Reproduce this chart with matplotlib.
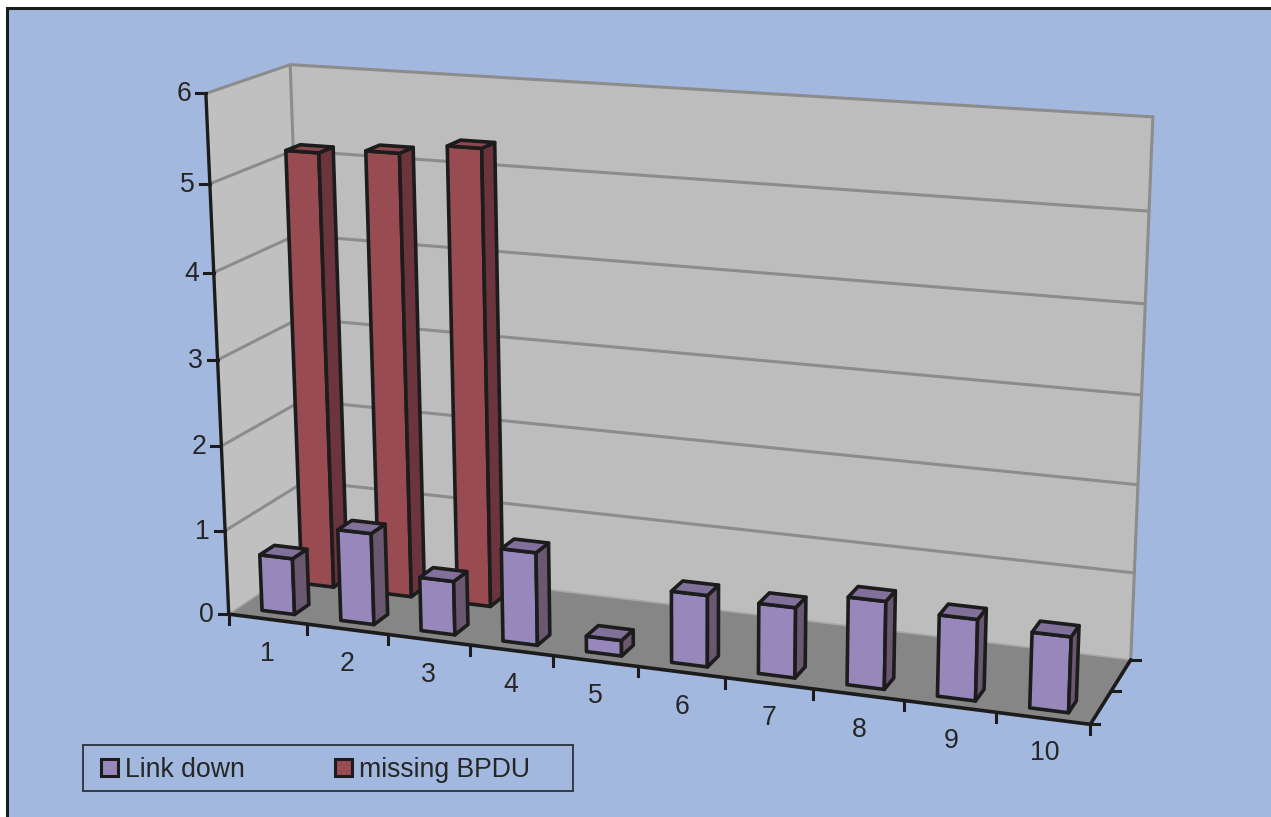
import numpy as np
import matplotlib
matplotlib.use('Agg')
import matplotlib.pyplot as plt
from matplotlib.patches import Polygon, Patch, Rectangle

plt.rcParams['font.family'] = ['Liberation Sans', 'DejaVu Sans']

# data
categories = ['1', '2', '3', '4', '5', '6', '7', '8', '9', '10']
link_down = [0.67, 1.08, 0.63, 1.08, 0.18, 0.82, 0.8, 0.99, 0.91, 0.84]
missing_bpdu = [5.16, 5.22, 5.34, 0, 0, 0, 0, 0, 0, 0]
y_ticks = [0, 1, 2, 3, 4, 5, 6]
y_max = 6

# box corners (category pos, depth, value) -> pixel, used to fit the camera
world = [[0, 0, 0], [0, 0, 6], [0, 1, 6], [0, 1, 0], [10, 0, 0], [10, 1, 0], [10, 1, 6]]
pixel = [[228, 614], [207, 93], [289, 65], [309, 561], [1090, 725], [1131, 659], [1153, 117]]

A = []
b = []
for (X, Y, Z), (px, py) in zip(world, pixel):
    A.append([X, Y, Z, 1, 0, 0, 0, 0, -px*X, -px*Y, -px*Z])
    b.append(px)
    A.append([0, 0, 0, 0, X, Y, Z, 1, -py*X, -py*Y, -py*Z])
    b.append(py)
p = np.linalg.lstsq(np.array(A, float), np.array(b, float), rcond=None)[0]
P = np.append(p, 1).reshape(3, 4)


def proj(u, d, v):
    q = P @ np.array([u, d, v, 1.0])
    return q[0]/q[2], q[1]/q[2]


fig = plt.figure(figsize=(12.71, 8.17), dpi=100, facecolor='white')
ax = fig.add_axes([0, 0, 1, 1])
ax.set_xlim(0, 1271)
ax.set_ylim(817, 0)
ax.axis('off')

bg = '#a3b8df'
ink = '#1c1c1c'
grid = '#8c8c8c'
ax.add_patch(Rectangle((7, 8), 1270, 815, fc=bg, ec=ink, lw=2.2))


def face(pts, fc, ec='none', lw=0, z=1):
    ax.add_patch(Polygon([proj(*q) for q in pts], closed=True, fc=fc, ec=ec, lw=lw, joinstyle='round', zorder=z))


def line(a, b, c=grid, lw=2.2, z=2):
    pa, pb = proj(*a), proj(*b)
    ax.plot([pa[0], pb[0]], [pa[1], pb[1]], color=c, lw=lw, solid_capstyle='round', zorder=z)


# walls and floor
face([(0, 1, 0), (10, 1, 0), (10, 1, 6), (0, 1, 6)], '#bdbdbd')
face([(0, 0, 0), (0, 1, 0), (0, 1, 6), (0, 0, 6)], '#c0c0c0')
face([(0, 0, 0), (10, 0, 0), (10, 1, 0), (0, 1, 0)], '#868686')

for v in y_ticks[1:]:
    line((0, 0, v), (0, 1, v))
    line((0, 1, v), (10, 1, v))
line((0, 1, 0), (0, 1, 6))
line((10, 1, 0), (10, 1, 6))
line((0, 0, 0), (0, 1, 0), '#a8a8a8', 1.2)
line((0, 1, 0), (10, 1, 0), '#a8a8a8', 1.2)

# axes
line((0, 0, 0), (0, 0, 6), ink, 2.4, 3)
line((0, 0, 0), (10, 0, 0), ink, 2.6, 3)
line((10, 0, 0), (10, 1, 0), ink, 2.6, 3)
for v in y_ticks:
    x, y = proj(0, 0, v)
    ax.plot([x-10, x], [y, y], color=ink, lw=2.2, zorder=3)
    ax.text(x-15, y+1, str(v), ha='right', va='center', fontsize=19.2, color='#262626')
for i in range(len(categories)+1):
    x, y = proj(i, 0, 0)
    ax.plot([x, x], [y, y+10], color=ink, lw=2.2, zorder=3)
for d in [0, 0.5, 1]:
    x, y = proj(10, d, 0)
    ax.plot([x, x+9], [y, y], color=ink, lw=2.2, zorder=3)
for i, c in enumerate(categories):
    x, y = proj(i+0.5, 0, 0)
    ax.text(x-1+i*0.25, y+35, c, ha='center', va='center', fontsize=19.2, color='#262626')


def bar(i, val, d0, d1, front, side, top, z):
    u0, u1 = i+0.30, i+0.715
    face([(u0, d0, 0), (u1, d0, 0), (u1, d0, val), (u0, d0, val)], front, ink, 2.6, z)
    face([(u1, d0, 0), (u1, d1, 0), (u1, d1, val), (u1, d0, val)], side, ink, 2.6, z)
    face([(u0, d0, val), (u1, d0, val), (u1, d1, val), (u0, d1, val)], top, ink, 2.6, z)


for i, val in enumerate(missing_bpdu):
    if val > 0:
        bar(i, val, 0.62, 0.80, '#984b50', '#6c343d', '#8c4850', 4)
for i, val in enumerate(link_down):
    bar(i, val, 0.12, 0.30, '#9787ba', '#695870', '#80709a', 5)

# legend
ax.add_patch(Rectangle((83, 745), 490, 46, fc='none', ec='#2b2f3a', lw=1.3, zorder=6))
handles = [Patch(fc='#9787ba', ec=ink, lw=2.2, label='Link down'),
           Patch(fc='#984b50', ec=ink, lw=2.2, label='missing BPDU')]
ax.legend(handles=handles, ncols=2, frameon=False, fontsize=19.2, loc='center left',
          bbox_to_anchor=(83, 770), bbox_transform=ax.transData, handlelength=0.64, handleheight=0.64,
          handletextpad=0.26, columnspacing=3.38, borderpad=0, borderaxespad=0.68, labelcolor='#262626')

fig.savefig('out.png', dpi=100)
